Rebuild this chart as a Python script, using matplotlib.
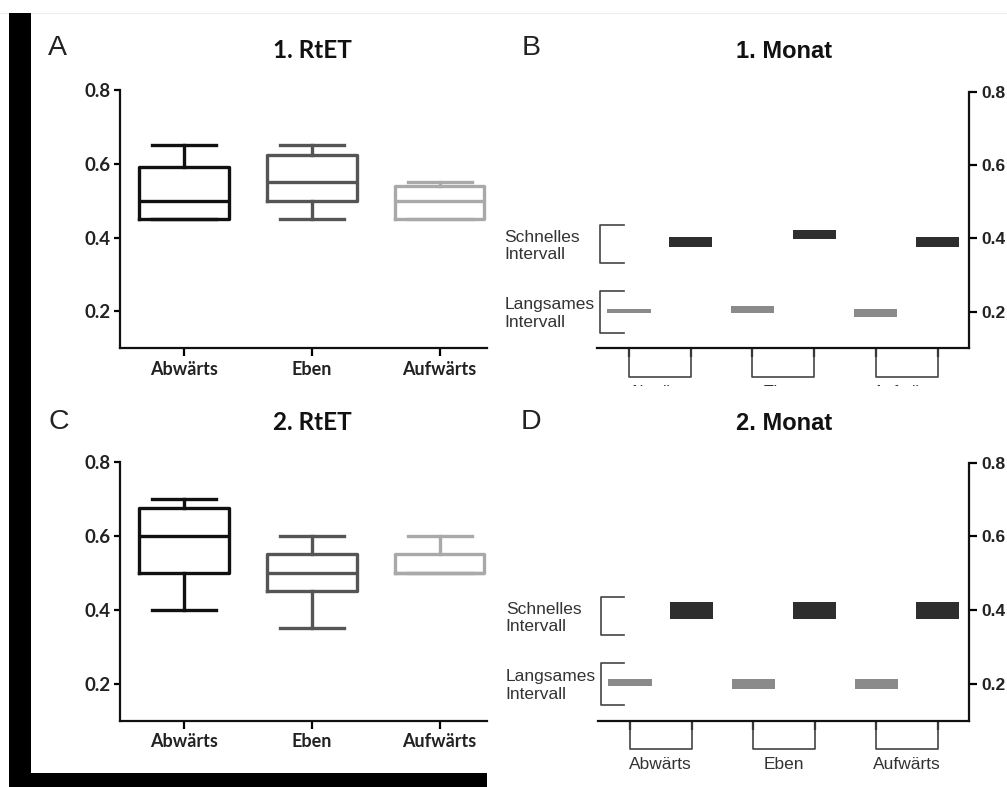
"""
RtET und Monat - Boxplots und Intervall-Balken (4 Panels)
"""
import matplotlib
matplotlib.use("Agg")
import matplotlib.pyplot as plt
from matplotlib.patches import Rectangle
from matplotlib.lines import Line2D

# Daten

kategorien = ["Abwärts", "Eben", "Aufwärts"]
farben = ["#111111", "#555555", "#a9a9a9"]
y_ticks = [0.2, 0.4, 0.6, 0.8]

# 1. RtET
rtet1_min = [0.45, 0.45, 0.45]
rtet1_q1 = [0.45, 0.50, 0.45]
rtet1_med = [0.50, 0.55, 0.50]
rtet1_q3 = [0.59, 0.625, 0.54]
rtet1_max = [0.65, 0.65, 0.55]

# 2. RtET
rtet2_min = [0.40, 0.35, 0.50]
rtet2_q1 = [0.50, 0.45, 0.50]
rtet2_med = [0.60, 0.50, 0.50]
rtet2_q3 = [0.675, 0.55, 0.55]
rtet2_max = [0.70, 0.60, 0.60]

# 1. Monat (unten / oben der Balken)
monat1_langsam_unten = [0.196, 0.196, 0.185]
monat1_langsam_oben = [0.206, 0.215, 0.206]
monat1_schnell_unten = [0.376, 0.398, 0.376]
monat1_schnell_oben = [0.404, 0.424, 0.404]

# 2. Monat
monat2_langsam_unten = [0.195, 0.186, 0.186]
monat2_langsam_oben = [0.214, 0.213, 0.213]
monat2_schnell_unten = [0.375, 0.375, 0.375]
monat2_schnell_oben = [0.422, 0.422, 0.422]

W, H = 1007, 787
fig = plt.figure(figsize=(W / 100, H / 100), dpi=100)


def px(x0, y0, x1, y1):
    # Pixel-Rechteck -> Figurkoordinaten
    return [x0 / W, 1 - y1 / H, (x1 - x0) / W, (y1 - y0) / H]


def box_panel(ax, lo, q1, med, q3, hi):
    for i in range(len(kategorien)):
        s = dict(whislo=lo[i], q1=q1[i], med=med[i], q3=q3[i], whishi=hi[i])
        c = farben[i]
        lp = dict(color=c, lw=2.4)
        ax.bxp([s], positions=[i], widths=0.7, capwidths=0.5, showfliers=False,
               boxprops=lp, medianprops=lp, whiskerprops=lp, capprops=lp,
               manage_ticks=False)
    ax.set_xlim(-0.5, 2.37)
    ax.set_ylim(0.1, 0.8)
    ax.set_xticks(range(3))
    ax.set_xticklabels(kategorien, fontfamily="Lato", fontweight="bold",
                       fontsize=13, color="#222222")
    ax.set_yticks(y_ticks)
    ax.set_yticklabels(["%.1f" % v for v in y_ticks], fontfamily="Lato",
                       fontweight="bold", fontsize=13.5, color="#222222")
    for s in ["top", "right"]:
        ax.spines[s].set_visible(False)
    for s in ["left", "bottom"]:
        ax.spines[s].set_linewidth(1.6)
        ax.spines[s].set_color("#111111")
    ax.tick_params(axis="y", length=4, width=1.6, pad=3)
    ax.tick_params(axis="x", length=5.5, width=1.6, pad=3.5)


def monat_panel(ax, lu, lo, su, so):
    pos_l = [0, 2, 4]
    pos_s = [1, 3, 5]
    ax.bar(pos_l, [o - u for u, o in zip(lu, lo)], bottom=lu, width=0.7,
           color="#8a8a8a")
    ax.bar(pos_s, [o - u for u, o in zip(su, so)], bottom=su, width=0.7,
           color="#2e2e2e")
    ax.set_xlim(-0.52, 5.51)
    ax.set_ylim(0.1, 0.8)
    ax.yaxis.tick_right()
    ax.set_yticks(y_ticks)
    ax.set_yticklabels(["%.1f" % v for v in y_ticks], fontfamily="Liberation Sans",
                       fontweight="bold", fontsize=12.5, color="#222222")
    ax.set_xticks(range(6))
    ax.set_xticklabels([])
    for s in ["top", "left"]:
        ax.spines[s].set_visible(False)
    for s in ["right", "bottom"]:
        ax.spines[s].set_linewidth(1.6)
        ax.spines[s].set_color("#111111")
    ax.tick_params(axis="y", length=5.5, width=1.6, pad=3.5)
    ax.tick_params(axis="x", length=6.5, width=1.6)

    # Klammern links
    for y0, y1, txt in [(0.333, 0.435, "Schnelles\nIntervall"),
                        (0.143, 0.257, "Langsames\nIntervall")]:
        ax.plot([-0.09, -0.475, -0.475, -0.09], [y1, y1, y0, y0],
                color="#444444", lw=1.2, clip_on=False)
        ax.text(-2.02, (y0 + y1) / 2 - 0.005, txt, ha="left", va="center",
                fontfamily="Liberation Sans", fontsize=12.5, color="#333333",
                linespacing=1.2)

    # Klammern unten
    for i, k in enumerate(kategorien):
        a, b = 2 * i, 2 * i + 1
        ax.plot([a, a, b, b], [0.1, 0.022, 0.022, 0.1], color="#444444",
                lw=1.2, clip_on=False)
        ax.text((a + b) / 2, -0.02, k, ha="center", va="center",
                fontfamily="Liberation Sans", fontsize=12.5, color="#333333")


ax_a = fig.add_axes(px(120, 90, 487, 348.3))
box_panel(ax_a, rtet1_min, rtet1_q1, rtet1_med, rtet1_q3, rtet1_max)

ax_b = fig.add_axes(px(597, 91.7, 969, 348.3))
monat_panel(ax_b, monat1_langsam_unten, monat1_langsam_oben,
            monat1_schnell_unten, monat1_schnell_oben)

ax_c = fig.add_axes(px(120, 461.7, 487, 720.7))
box_panel(ax_c, rtet2_min, rtet2_q1, rtet2_med, rtet2_q3, rtet2_max)

ax_d = fig.add_axes(px(598, 462.7, 969, 720.7))
monat_panel(ax_d, monat2_langsam_unten, monat2_langsam_oben,
            monat2_schnell_unten, monat2_schnell_oben)

# Titel und Buchstaben
for x, y, t in [(57.5, 48, "A"), (531, 48, "B"), (58.5, 421.7, "C"), (531, 421.7, "D")]:
    fig.text(x / W, 1 - y / H, t, ha="center", va="center",
             fontfamily="Liberation Sans", fontsize=20.5, color="#222222")
for x, y, t, f, fs in [(312, 51, "1. RtET", "Lato", 17.5),
                       (784.5, 51, "1. Monat", "Liberation Sans", 17),
                       (312, 423, "2. RtET", "Lato", 17.5),
                       (784.5, 423, "2. Monat", "Liberation Sans", 17)]:
    fig.text(x / W, 1 - y / H, t, ha="center", va="center", fontfamily=f,
             fontweight="bold", fontsize=fs, color="#111111")

# abgeschnittener Bereich unter Panel B
fig.add_artist(Rectangle((490 / W, 1 - 405 / H), 517 / W, 19 / H,
                         transform=fig.transFigure, facecolor="white",
                         edgecolor="none", zorder=10))

# schwarze Ränder
fig.add_artist(Rectangle((9 / W, 0), 22 / W, 1 - 13 / H, transform=fig.transFigure,
                         facecolor="black", edgecolor="none", zorder=11))
fig.add_artist(Rectangle((9 / W, 0), 478 / W, 14 / H, transform=fig.transFigure,
                         facecolor="black", edgecolor="none", zorder=11))
fig.add_artist(Line2D([0, 1], [1 - 13 / H, 1 - 13 / H], transform=fig.transFigure,
                      color="#eeeeee", lw=0.8))

fig.savefig("out.png", dpi=100)
